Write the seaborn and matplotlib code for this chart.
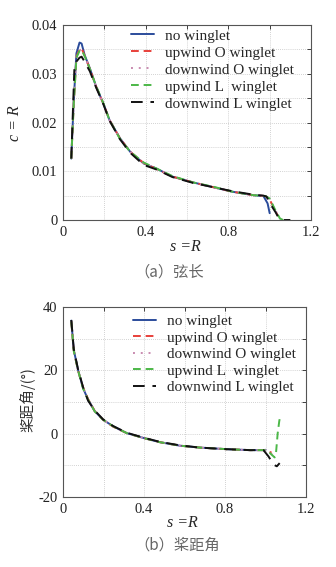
import numpy as np
import matplotlib
matplotlib.use("Agg")
import matplotlib.pyplot as plt
import seaborn as sns

# ---- data: chord distribution c/R vs s/R ----
chord_blue_s = [0.04, 0.052, 0.065, 0.08, 0.09, 0.105, 0.13, 0.16, 0.195, 0.225, 0.275, 0.325,
                0.39, 0.45, 0.53, 0.63, 0.73, 0.82, 0.92, 0.97, 0.99, 1.0]
chord_blue_c = [0.0126, 0.0246, 0.0342, 0.0364, 0.0362, 0.0338, 0.0311, 0.0274, 0.0239, 0.0205,
                0.0168, 0.0140, 0.0116, 0.0106, 0.0089, 0.0077, 0.0067, 0.0058, 0.0051, 0.0049,
                0.0034, 0.0014]

chord_red_s = [0.04, 0.052, 0.065, 0.08, 0.09, 0.105, 0.13, 0.16, 0.195, 0.225, 0.275, 0.325,
               0.39, 0.45, 0.53, 0.63, 0.73, 0.82, 0.92, 0.98, 1.0, 1.02, 1.04]
chord_red_c = [0.0126, 0.0240, 0.0335, 0.0350, 0.0352, 0.0337, 0.0310, 0.0274, 0.0239, 0.0205,
               0.0168, 0.0140, 0.0117, 0.0105, 0.0089, 0.0077, 0.0067, 0.0058, 0.0051, 0.0049,
               0.0042, 0.0025, 0.0008]

chord_pink_s = [0.04, 0.052, 0.065, 0.08, 0.09, 0.105, 0.13, 0.16, 0.195, 0.225, 0.275, 0.325,
                0.39, 0.45, 0.53, 0.63, 0.73, 0.82, 0.92, 0.98, 1.0, 1.03, 1.05]
chord_pink_c = [0.0126, 0.0240, 0.0335, 0.0348, 0.0350, 0.0336, 0.0310, 0.0274, 0.0239, 0.0205,
                0.0168, 0.0140, 0.0116, 0.0106, 0.0089, 0.0077, 0.0067, 0.0058, 0.0051, 0.0049,
                0.0043, 0.0018, 0.0002]

chord_green_s = [0.04, 0.052, 0.065, 0.08, 0.09, 0.105, 0.13, 0.16, 0.195, 0.225, 0.275, 0.325,
                 0.39, 0.45, 0.53, 0.63, 0.73, 0.82, 0.92, 0.98, 1.0, 1.03, 1.05, 1.065]
chord_green_c = [0.0126, 0.0238, 0.0333, 0.0347, 0.0349, 0.0336, 0.0310, 0.0275, 0.0240, 0.0205,
                 0.0167, 0.0140, 0.0118, 0.0106, 0.0090, 0.0077, 0.0068, 0.0058, 0.0051, 0.0049,
                 0.0044, 0.0018, 0.0003, 0.0]

chord_black_s = [0.04, 0.055, 0.065, 0.08, 0.09, 0.10, 0.13, 0.16, 0.195, 0.225, 0.275, 0.325,
                 0.39, 0.45, 0.53, 0.63, 0.73, 0.82, 0.92, 0.97, 0.985, 1.0, 1.03, 1.045, 1.06, 1.10]
chord_black_c = [0.0126, 0.0310, 0.0325, 0.0333, 0.0335, 0.0328, 0.0305, 0.0272, 0.0238, 0.0204,
                 0.0166, 0.0138, 0.0113, 0.0104, 0.0088, 0.0076, 0.0067, 0.0059, 0.0052, 0.0050,
                 0.0048, 0.0035, 0.0015, 0.0003, 0.0, 0.0]

# ---- data: pitch angle (deg) vs s/R ----
pitch_body_s = [0.041, 0.053, 0.074, 0.099, 0.124, 0.157, 0.198, 0.248, 0.314, 0.40, 0.479,
                0.578, 0.677, 0.809, 0.924, 0.99, 1.0]
pitch_blue = [35.7, 26.5, 20.2, 14.4, 10.7, 7.1, 4.4, 2.3, 0.2, -1.4, -2.7, -3.8, -4.4, -4.9,
              -5.2, -5.2, -5.1]
pitch_red_s = [0.041, 0.053, 0.074, 0.099, 0.124, 0.157, 0.198, 0.248, 0.314, 0.40, 0.479,
               0.578, 0.677, 0.809, 0.924, 1.0, 1.03]
pitch_red = [35.5, 26.3, 20.0, 14.6, 10.9, 7.1, 4.4, 2.2, 0.2, -1.4, -2.7, -3.8, -4.4, -4.9,
             -5.2, -5.2, -6.0]
pitch_pink_s = [0.041, 0.053, 0.074, 0.099, 0.124, 0.157, 0.198, 0.248, 0.314, 0.40, 0.479,
                0.578, 0.677, 0.809, 0.924, 1.0, 1.03, 1.055]
pitch_pink = [35.5, 26.3, 20.0, 14.5, 10.8, 7.1, 4.4, 2.3, 0.2, -1.4, -2.7, -3.8, -4.4, -4.9,
              -5.2, -5.2, -6.5, -7.5]
pitch_green_s = [0.041, 0.053, 0.074, 0.099, 0.124, 0.157, 0.198, 0.248, 0.314, 0.40, 0.479,
                 0.578, 0.677, 0.809, 0.924, 1.0, 1.02, 1.045, 1.052, 1.06, 1.068, 1.075]
pitch_green = [35.4, 26.2, 20.1, 14.3, 10.7, 7.0, 4.4, 2.3, 0.2, -1.4, -2.7, -3.8, -4.4, -4.9,
               -5.2, -5.2, -6.0, -7.5, -6.0, 0.0, 4.0, 6.0]
pitch_black_s = [0.041, 0.053, 0.074, 0.099, 0.124, 0.157, 0.198, 0.248, 0.314, 0.40, 0.479,
                 0.578, 0.677, 0.809, 0.924, 0.99, 1.015, 1.04, 1.056, 1.07]
pitch_black = [35.9, 26.8, 20.4, 14.7, 10.4, 7.3, 4.5, 2.4, 0.3, -1.3, -2.6, -3.7, -4.4, -4.9,
               -5.2, -5.2, -7.2, -9.8, -10.3, -9.3]

labels = ["no winglet", "upwind O winglet", "downwind O winglet",
          "upwind L  winglet", "downwind L winglet"]
colors = ["#2b4c9b", "#e8403a", "#c98bb0", "#4cb848", "#111111"]
styles = ["-", (0, (4, 2.5)), (0, (1, 3)), (0, (4, 2.5)), (0, (6, 4))]

chord_sets = [(chord_blue_s, chord_blue_c), (chord_red_s, chord_red_c),
              (chord_pink_s, chord_pink_c), (chord_green_s, chord_green_c),
              (chord_black_s, chord_black_c)]
pitch_sets = [(pitch_body_s, pitch_blue), (pitch_red_s, pitch_red),
              (pitch_pink_s, pitch_pink), (pitch_green_s, pitch_green),
              (pitch_black_s, pitch_black)]

sns.set_style("white")
serif = ["Liberation Serif", "DejaVu Serif"]
cjk = ["Noto Sans CJK SC", "DejaVu Sans"]
plt.rcParams["font.family"] = serif

fig = plt.figure(figsize=(3.36, 5.67), dpi=100)
ax1 = fig.add_axes([63 / 336, 1 - 220 / 567, 248 / 336, 195 / 567])
ax2 = fig.add_axes([63 / 336, 1 - 497 / 567, 243 / 336, 190 / 567])


def style_axes(ax):
    ax.grid(True, color="#c4c4c4", linestyle=(0, (1, 1.5)), linewidth=0.6)
    ax.tick_params(direction="in", length=3, width=0.6, top=True, right=True,
                   labelsize=10.5, pad=4, colors="#222222")
    for sp in ax.spines.values():
        sp.set_color("#555555")
        sp.set_linewidth(0.8)
    ax.set_xlim(0, 1.2)
    ax.set_xticks(np.arange(0, 1.21, 0.2))
    ax.set_xticklabels(["0", "", "0.4", "", "0.8", "", "1.2"])


for (xs, ys), lab, col, ls in zip(chord_sets, labels, colors, styles):
    sns.lineplot(x=xs, y=ys, ax=ax1, color=col, linestyle=ls, linewidth=1.4,
                 label=lab, sort=False, estimator=None, clip_on=False)
for (xs, ys), lab, col, ls in zip(pitch_sets, labels, colors, styles):
    sns.lineplot(x=xs, y=ys, ax=ax2, color=col, linestyle=ls, linewidth=1.4,
                 label=lab, sort=False, estimator=None)

style_axes(ax1)
ax1.set_ylim(0, 0.04)
ax1.set_yticks(np.arange(0, 0.0401, 0.005))
ax1.set_yticklabels(["0", "", "0.01", "", "0.02", "", "0.03", "", "0.04"])

style_axes(ax2)
ax2.set_ylim(-20, 40)
ax2.set_yticks(np.arange(-20, 41, 10))
ax2.set_yticklabels(["-20", "", "0", "", "20", "", "40"])

leg_kw = dict(frameon=False, loc="upper left", fontsize=11, handlelength=1.5,
              handletextpad=0.7, borderpad=0, borderaxespad=0)
ax1.legend(bbox_to_anchor=(0.275, 0.98), labelspacing=0.22, **leg_kw)
ax2.legend(bbox_to_anchor=(0.29, 0.96), labelspacing=0.18, **leg_kw)

for ax in (ax1, ax2):
    ax.set_xlabel("")
    ax.set_ylabel("")

fig.text(185 / 336, 1 - 247 / 567, "s =R", ha="center", va="center",
         fontsize=11.5, style="italic", family=serif)
fig.text(15 / 336, 1 - 123 / 567, "c = R", ha="center", va="center", rotation=90,
         fontsize=11.5, style="italic", family=serif)
fig.text(169 / 336, 1 - 272 / 567, "（a）弦长", ha="center", va="center",
         fontsize=11, color="#666666", family=cjk)

fig.text(182 / 336, 1 - 523 / 567, "s =R", ha="center", va="center",
         fontsize=11.5, style="italic", family=serif)
fig.text(27 / 336, 1 - 400 / 567, "桨距角/(°)", ha="center", va="center", rotation=90,
         fontsize=10.5, color="#333333", family=cjk)
fig.text(177 / 336, 1 - 545 / 567, "（b）桨距角", ha="center", va="center",
         fontsize=11, color="#666666", family=cjk)

fig.savefig("out.png", dpi=100)
